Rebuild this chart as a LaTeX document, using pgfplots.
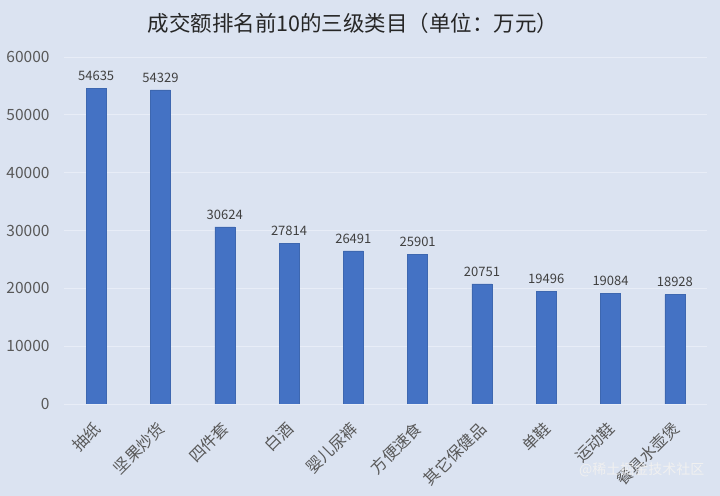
\documentclass[border=0pt]{standalone}
\usepackage{pgfplots}
\pgfplotsset{compat=1.18}
\usepackage{fontspec}
\setmainfont{Noto Sans CJK SC}
\definecolor{bgc}{RGB}{219,227,241}
\definecolor{gridc}{RGB}{232,237,247}
\definecolor{barc}{RGB}{68,114,196}
\definecolor{txtc}{RGB}{89,89,89}
\definecolor{lblc}{RGB}{64,64,64}
\begin{document}
\begin{tikzpicture}
\fill[bgc] (0,0) rectangle (720bp,496bp);
\useasboundingbox (0,0) rectangle (720bp,496bp);
\node[font=\fontsize{21.5bp}{24bp}\selectfont, text=black!85] at (353bp,473bp) {成交额排名前10的三级类目（单位：万元）};
\begin{axis}[
  at={(64bp,92bp)}, anchor=south west,
  scale only axis, width=643bp, height=347bp,
  xmin=-0.5, xmax=9.5, ymin=0, ymax=60000,
  ybar, bar width=20bp,
  axis line style={draw=none},
  tick style={draw=none},
  ymajorgrids, grid style={gridc, line width=0.8bp},
  ytick={0,10000,...,60000},
  scaled y ticks=false,
  /pgf/number format/assume math mode=true,
  /pgf/number format/set thousands separator={},
  yticklabel style={font=\fontsize{15.5bp}{18bp}\selectfont, text=txtc, xshift=-11bp},
  xtick=data,
  xticklabels={抽纸,坚果炒货,四件套,白酒,婴儿尿裤,方便速食,其它保健品,单鞋,运动鞋,餐具水壶煲},
  xticklabel style={font=\fontsize{16bp}{18bp}\selectfont, text=txtc, xshift=-4bp, yshift=-7bp, rotate=45, anchor=north east},
  nodes near coords,
  every node near coord/.append style={font=\fontsize{13bp}{15bp}\selectfont, text=lblc, yshift=4bp, /pgf/number format/assume math mode=true, /pgf/number format/set thousands separator={}},
]
\addplot[fill=barc, draw=barc!90!black, line width=0.4bp] coordinates {
(0,54635) (1,54329) (2,30624) (3,27814) (4,26491) (5,25901) (6,20751) (7,19496) (8,19084) (9,18928)};
\end{axis}
\node[font=\fontsize{14bp}{16bp}\selectfont, text=white!88!gray, anchor=east] at (708bp,26bp) {@稀土掘金技术社区};
\end{tikzpicture}
\end{document}
